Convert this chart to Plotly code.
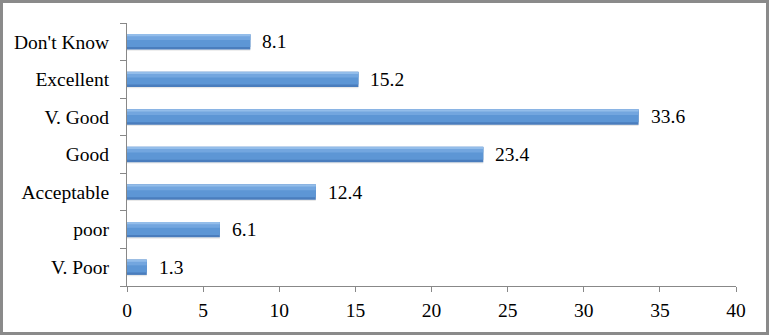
import plotly.graph_objects as go

categories = ["V. Poor", "poor", "Acceptable", "Good", "V. Good", "Excellent", "Don't Know"]
values = [1.3, 6.1, 12.4, 23.4, 33.6, 15.2, 8.1]
x_ticks = [0, 5, 10, 15, 20, 25, 30, 35, 40]

FONT = "Liberation Serif, Times New Roman, serif"

# layers to imitate the shaded bar: (width, offset, color)
layers = [
    (0.44, -0.24, "rgba(0,0,0,0.09)"),
    (0.41, -0.205, "#4A7DBD"),
    (0.33, -0.14, "#5D96D5"),
    (0.14, 0.05, "#73A6DF"),
    (0.06, 0.145, "#93BDEA"),
]

fig = go.Figure()
for w, off, col in layers:
    fig.add_trace(go.Bar(
        y=categories, x=values, orientation="h",
        width=[w] * len(values), offset=[off] * len(values),
        marker=dict(color=col, line=dict(width=0)),
        hoverinfo="skip", showlegend=False,
    ))

for c, v in zip(categories, values):
    fig.add_annotation(x=v, y=c, text=f"{v}", showarrow=False,
                       xanchor="left", xshift=10, yshift=0,
                       font=dict(family=FONT, size=19.5, color="#000"))

W, H = 769, 335
L, R, T, B = 127, 33, 23, 49
pw, ph = W - L - R, H - T - B
fig.add_shape(type="rect", xref="paper", yref="paper",
              x0=(1.5 - L) / pw, x1=(W - 1.5 - L) / pw,
              y0=-(B - 1.5) / ph, y1=1 + (T - 1.5) / ph,
              line=dict(color="#8a8a8a", width=3), layer="below")

fig.update_layout(
    width=W, height=H,
    margin=dict(l=L, r=R, t=T, b=B),
    paper_bgcolor="white", plot_bgcolor="white",
    barmode="overlay",
    font=dict(family=FONT, size=19.5, color="#000"),
    xaxis=dict(range=[0, 40], tickvals=x_ticks, showgrid=False, zeroline=False,
               showline=True, linecolor="#888", linewidth=1,
               ticks="outside", ticklen=5, tickcolor="#888",
               ticklabelstandoff=2,
               tickfont=dict(family=FONT, size=19.5), fixedrange=True),
    yaxis=dict(categoryorder="array", categoryarray=categories,
               range=[-0.5, 6.5], showgrid=False, zeroline=False,
               showline=True, linecolor="#888", linewidth=1,
               ticks="outside", ticklen=6, tickcolor="#888",
               tickson="boundaries", ticklabelstandoff=13,
               tickfont=dict(family=FONT, size=19.5), fixedrange=True),
)

fig.write_html("out.html")
